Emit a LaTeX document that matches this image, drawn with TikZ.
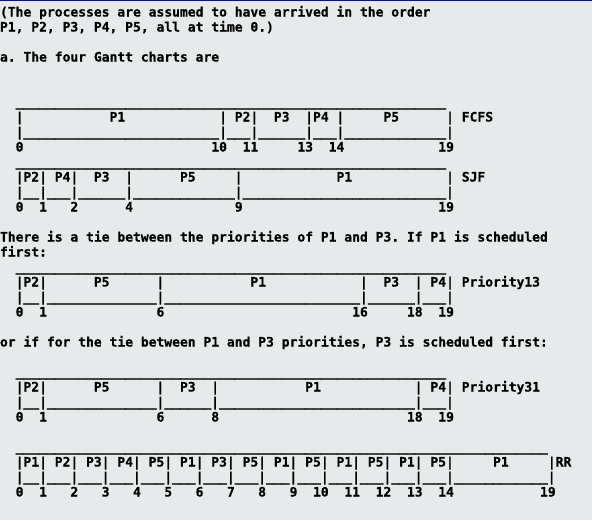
\documentclass[tikz,border=0pt]{standalone}
\usepackage{fontspec}
\newfontfamily\monob{DejaVu Sans Mono}[UprightFont=*, BoldFont=* Bold, BoldFeatures={FakeBold=0.6}, WordSpace={1,0,0}]
\ExplSyntaxOn
\cs_new:Npn \myrep #1#2 { \prg_replicate:nn {#1} {#2} }
\ExplSyntaxOff
\newcommand\spc[1]{\myrep{#1}{\ }}
\newcommand\uls[1]{\myrep{#1}{\_}}
\definecolor{bg}{HTML}{E6EAEA}
\definecolor{topline}{HTML}{0000FF}
\tikzset{
  txt/.style={anchor=base west, inner sep=0pt, outer sep=0pt, text=black,
    font=\monob\bfseries\fontsize{13pt}{15pt}\selectfont\frenchspacing}
}
\newcommand\tline[3]{\node[txt] (#1) at (0,{-16.5-15*#2}) {#3};}
\begin{document}
\begin{tikzpicture}[x=1pt,y=1pt]
\useasboundingbox (0,0) rectangle (592,-520);
\fill[bg] (0,0) rectangle (592,-520);
\fill[topline] (0,0) rectangle (592,-1.3);
% intro text
\tline{l0}{0}{(The processes are assumed to have arrived in the order}
\tline{l1}{1}{P1, P2, P3, P4, P5, all at time 0.)}
\tline{l3}{3}{a. The four Gantt charts are}
% FCFS
\tline{l6}{6}{\spc{2}\uls{55}}
\tline{l7}{7}{\spc{2}|\spc{11}P1\spc{12}|\spc{1}P2|\spc{2}P3\spc{2}|P4\spc{1}|\spc{5}P5\spc{6}|\spc{1}FCFS}
\tline{l8}{8}{\spc{2}|\uls{25}|\uls{3}|\uls{6}|\uls{3}|\uls{13}|}
\tline{l9}{9}{\spc{2}0\spc{24}10\spc{2}11\spc{5}13\spc{2}14\spc{12}19}
% SJF
\tline{l10}{10}{\spc{2}\uls{55}}
\tline{l11}{11}{\spc{2}|P2|\spc{1}P4|\spc{2}P3\spc{2}|\spc{6}P5\spc{5}|\spc{12}P1\spc{12}|\spc{1}SJF}
\tline{l12}{12}{\spc{2}|\uls{2}|\uls{3}|\uls{6}|\uls{13}|\uls{26}|}
\tline{l13}{13}{\spc{2}0\spc{2}1\spc{3}2\spc{6}4\spc{13}9\spc{25}19}
% Priority text
\tline{l15}{15}{There is a tie between the priorities of P1 and P3. If P1 is scheduled}
\tline{l16}{16}{first:}
% Priority13
\tline{l17}{17}{\spc{2}\uls{55}}
\tline{l18}{18}{\spc{2}|P2|\spc{6}P5\spc{6}|\spc{11}P1\spc{12}|\spc{2}P3\spc{2}|\spc{1}P4|\spc{1}Priority13}
\tline{l19}{19}{\spc{2}|\uls{2}|\uls{14}|\uls{25}|\uls{6}|\uls{3}|}
\tline{l20}{20}{\spc{2}0\spc{2}1\spc{14}6\spc{24}16\spc{5}18\spc{2}19}
% alternative text
\tline{l22}{22}{or if for the tie between P1 and P3 priorities, P3 is scheduled first:}
% Priority31
\tline{l24}{24}{\spc{2}\uls{55}}
\tline{l25}{25}{\spc{2}|P2|\spc{6}P5\spc{6}|\spc{2}P3\spc{2}|\spc{11}P1\spc{12}|\spc{1}P4|\spc{1}Priority31}
\tline{l26}{26}{\spc{2}|\uls{2}|\uls{14}|\uls{6}|\uls{25}|\uls{3}|}
\tline{l27}{27}{\spc{2}0\spc{2}1\spc{14}6\spc{6}8\spc{24}18\spc{2}19}
% RR
\tline{l29}{29}{\spc{2}\uls{68}}
\tline{l30}{30}{\spc{2}|P1|\spc{1}P2|\spc{1}P3|\spc{1}P4|\spc{1}P5|\spc{1}P1|\spc{1}P3|\spc{1}P5|\spc{1}P1|\spc{1}P5|\spc{1}P1|\spc{1}P5|\spc{1}P1|\spc{1}P5|\spc{5}P1\spc{5}|RR}
\tline{l31}{31}{\spc{2}|\uls{2}|\uls{3}|\uls{3}|\uls{3}|\uls{3}|\uls{3}|\uls{3}|\uls{3}|\uls{3}|\uls{3}|\uls{3}|\uls{3}|\uls{3}|\uls{3}|\uls{12}|}
\tline{l32}{32}{\spc{2}0\spc{2}1\spc{3}2\spc{3}3\spc{3}4\spc{3}5\spc{3}6\spc{3}7\spc{3}8\spc{3}9\spc{2}10\spc{2}11\spc{2}12\spc{2}13\spc{2}14\spc{11}19}
\end{tikzpicture}
\end{document}
